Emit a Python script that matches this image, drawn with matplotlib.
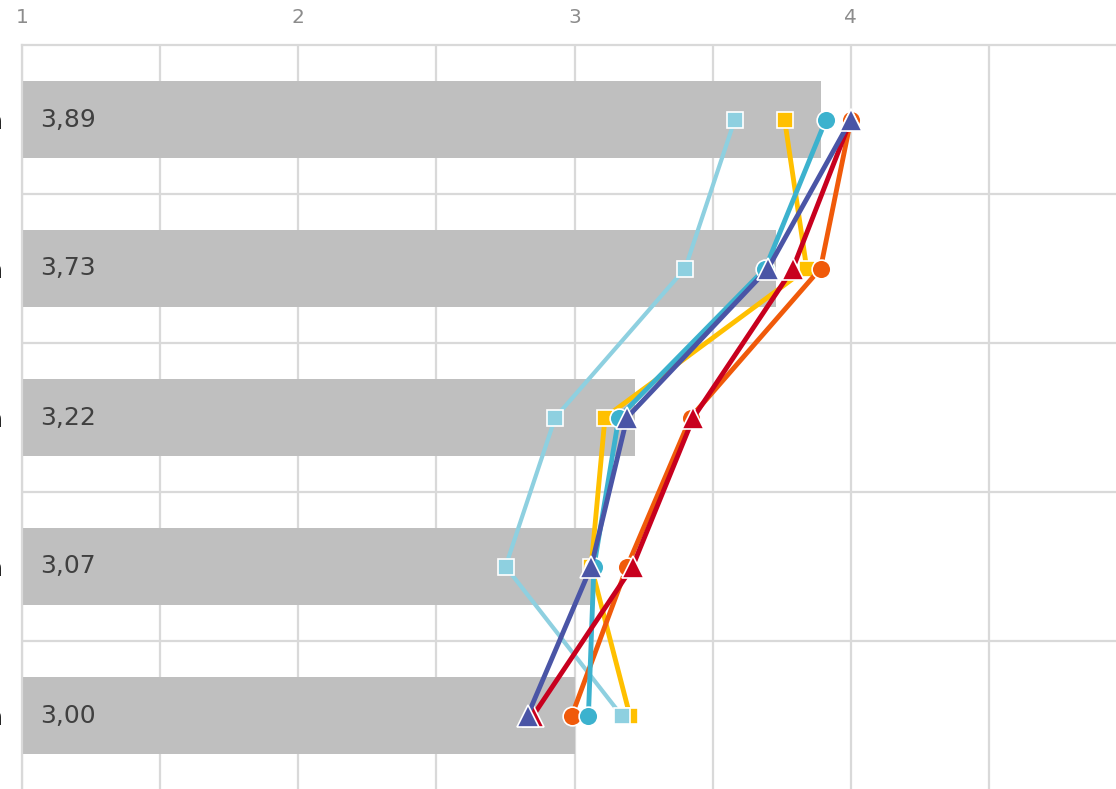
import matplotlib
matplotlib.use("Agg")
import matplotlib.pyplot as plt
from matplotlib.ticker import MultipleLocator
import matplotlib.transforms as mtransforms

# ---- data ----
categories = ["a", "a", "a", "a", "a"]          # only trailing letters visible in reference
bar_values = [3.89, 3.73, 3.22, 3.07, 3.00]
bar_labels = ["3,89", "3,73", "3,22", "3,07", "3,00"]

s_yellow    = [3.76, 3.84, 3.11, 3.06, 3.20]
s_lightblue = [3.58, 3.40, 2.93, 2.75, 3.17]
s_orange    = [4.00, 3.89, 3.42, 3.19, 2.99]
s_teal      = [3.91, 3.69, 3.16, 3.07, 3.05]
s_red       = [4.00, 3.79, 3.43, 3.21, 2.85]
s_darkblue  = [4.00, 3.70, 3.19, 3.06, 2.83]

x_ticks = [1, 2, 3, 4]
x_tick_labels = ["1", "2", "3", "4"]

W, H = 1116, 789
fig = plt.figure(figsize=(W / 100, H / 100), dpi=100)
ax_left = 22 / W
ax_width = 4 * 276.3 / W
ax_bottom = -1 / H
ax_top = (H - 45) / H
ax = fig.add_axes([ax_left, ax_bottom, ax_width, ax_top - ax_bottom])

ypos = list(range(len(categories)))
grid_c = "#d9d9d9"

# bars
ax.barh(ypos, [v - 1 for v in bar_values], left=1, height=0.52,
        color="#bfbfbf", zorder=2)

for y, lab in zip(ypos, bar_labels):
    tr = ax.transData + mtransforms.ScaledTranslation(18 / 100, 0, fig.dpi_scale_trans)
    ax.text(1, y, lab, transform=tr, ha="left", va="center",
            fontsize=18, color="#404040", zorder=3)

series = [
    (s_yellow,    "#FFC000", "s", 12.0, 3.5),
    (s_lightblue, "#8ED0E0", "s", 12.0, 3.0),
    (s_orange,    "#F05A0A", "o", 13.5, 3.5),
    (s_teal,      "#3CB2CE", "o", 13.5, 3.5),
    (s_red,       "#C8001E", "^", 15.5, 3.5),
    (s_darkblue,  "#4A55A6", "^", 15.5, 3.5),
]
for i, (vals, col, mk, ms, lw) in enumerate(series):
    ax.plot(vals, ypos, color=col, lw=lw, marker=mk, markersize=ms,
            markerfacecolor=col, markeredgecolor="white", markeredgewidth=1.2,
            zorder=5 + i, solid_capstyle="butt", clip_on=False)

ax.set_xlim(1, 5)
ax.set_ylim(len(categories) - 0.5, -0.5)

ax.xaxis.tick_top()
ax.set_xticks(x_ticks)
ax.set_xticklabels(x_tick_labels)
ax.xaxis.set_minor_locator(MultipleLocator(0.5))
ax.tick_params(axis="x", which="both", length=0, pad=13, labelsize=14.5,
               labelcolor="#8c8c8c")
ax.grid(axis="x", which="both", color=grid_c, lw=1.6, zorder=0)

ax.set_yticks(ypos)
ax.set_yticklabels(categories)
ax.set_yticks([y + 0.5 for y in ypos[:-1]], minor=True)
ax.tick_params(axis="y", which="both", length=0, pad=14, labelsize=18,
               labelcolor="#262626")
ax.grid(axis="y", which="minor", color=grid_c, lw=1.6, zorder=0)

for side in ["right", "bottom"]:
    ax.spines[side].set_visible(False)
ax.spines["top"].set_color(grid_c)
ax.spines["top"].set_linewidth(1.6)
ax.spines["left"].set_color(grid_c)
ax.spines["left"].set_linewidth(1.6)

fig.savefig("out.png", dpi=100)
